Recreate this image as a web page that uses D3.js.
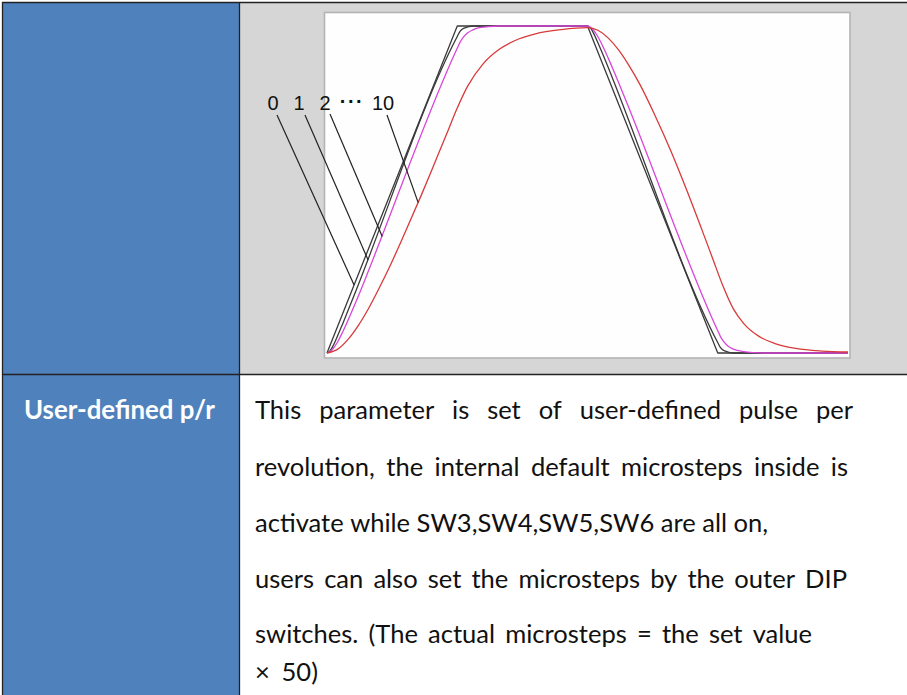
<!DOCTYPE html>
<html><head><meta charset="utf-8">
<script src="https://cdn.jsdelivr.net/npm/d3@7"></script>
<style>html,body{margin:0;padding:0;background:#fff;} svg{display:block}</style>
</head><body>
<svg id="c" width="907" height="695"></svg>
<script>
// ---- data (time 0..100, speed 0..100 % of target) ----
const seriesNames = ["0", "1", "2", "10"];
const seriesColors = ["#3a3a3a", "#3a3a3a", "#d946d9", "#d93a3a"];
const curve0 = [[0,0],[25,100],[50,100],[75,0],[100,0]];
const curve1 = [[0,0],[0.5,0.5],[1,1.7],[1.5,3.3],[2,5.1],[3,8.9],[5,16.8],[25,96.8],[25.5,98.3],[26,99.1],[27,99.7],[28,100],[50,100],[50.5,99.5],[51,98.3],[52,94.9],[53,91.1],[75,3.2],[75.5,1.7],[76,0.9],[77,0.3],[78,0],[100,0]];
const curve2 = [[0,0],[0.5,0.3],[1,1],[2,3.3],[3,6.4],[4,9.9],[5,13.6],[6.5,19.3],[8,25.3],[25,93.2],[25.5,94.9],[26,96.2],[27,97.9],[28,98.8],[29,99.4],[31,99.8],[33,100],[50,100],[50.5,99.7],[51,99],[52,96.7],[53,93.6],[54,90.1],[55,86.4],[57,78.7],[75,6.8],[75.5,5.1],[76,3.8],[77,2.1],[78,1.2],[80,0.4],[82,0.1],[84,0],[100,0]];
const curve10 = [[0,0],[2,1.1],[4,4.1],[6,8.4],[8,13.7],[10,19.8],[12,26.3],[15,36.9],[18,47.9],[21,59.4],[23,67.1],[25,74.9],[27,81.6],[30,88.5],[33,92.8],[36,95.5],[40,97.6],[45,98.9],[50,99.5],[52,98.7],[54,96.3],[56,92.6],[58,87.8],[60,82.3],[63,72.5],[66,61.8],[69,50],[72,37.5],[74,29],[76,20.5],[78,13.5],[80,9],[83,5],[86,2.9],[90,1.4],[95,0.6],[100,0.3]];
const seriesData = [curve0, curve1, curve2, curve10];
// label texts and the point on each curve that its leader line touches
const labelTexts = ["0", "1", "2", "\u00B7\u00B7\u00B7", "10"];
const leaderTargets = [[5.2,20.8],[7.9,28.4],[10.6,35.6],[17.5,46]];
const rowHeader = "User-defined p/r";
const bodyLines = [
  "This parameter is set of user-defined pulse per",
  "revolution, the internal default microsteps inside is",
  "activate while SW3,SW4,SW5,SW6 are all on,",
  "users can also set the microsteps by the outer DIP",
  "switches. (The actual microsteps = the set value",
  "\u00D7 50)"
];

// ---- layout ----
const svg = d3.select("#c");
const BLUE = "#4f81bd", GRAY = "#d6d6d6", LINE = "#222";
const colX = 239.5, rowY = 374.5;

svg.append("rect").attr("x",0).attr("y",0).attr("width",907).attr("height",695).attr("fill","#fff");
svg.append("rect").attr("x",2.5).attr("y",2.5).attr("width",colX-2.5).attr("height",695).attr("fill",BLUE);
svg.append("rect").attr("x",colX).attr("y",2.5).attr("width",907-colX).attr("height",rowY-2.5).attr("fill",GRAY);

// chart box
const box = {x0:324.5, y0:12.5, x1:850, y1:358};
svg.append("rect").attr("x",box.x0).attr("y",box.y0).attr("width",box.x1-box.x0).attr("height",box.y1-box.y0)
  .attr("fill","#fefefe").attr("stroke","#b4b4b4").attr("stroke-width",1.6);

// table borders
const b = svg.append("g").attr("stroke",LINE).attr("stroke-width",1.3);
b.append("line").attr("x1",2).attr("x2",907).attr("y1",2.5).attr("y2",2.5);
b.append("line").attr("x1",2.5).attr("x2",2.5).attr("y1",2).attr("y2",695);
b.append("line").attr("x1",colX).attr("x2",colX).attr("y1",2).attr("y2",695);
b.append("line").attr("x1",2).attr("x2",907).attr("y1",rowY).attr("y2",rowY);

// scales
const x = d3.scaleLinear().domain([0,100]).range([327,848]);
const y = d3.scaleLinear().domain([0,100]).range([353,26]);

const lineGen = d3.line().x(d=>x(d[0])).y(d=>y(d[1])).curve(d3.curveMonotoneX);
const lineLin = d3.line().x(d=>x(d[0])).y(d=>y(d[1]));
seriesData.forEach((s,i)=>{
  svg.append("path").attr("d", i===0 ? lineLin(s) : lineGen(s))
    .attr("fill","none").attr("stroke",seriesColors[i]).attr("stroke-width",1.3)
    .attr("stroke-linejoin","round");
});

// labels
const labelX = [273, 299, 325, 352, 383];
const labelY = 109.5;
labelTexts.forEach((t,i)=>{
  svg.append("text").attr("x",labelX[i]).attr("y", i===3 ? labelY-2 : labelY)
    .attr("text-anchor","middle")
    .attr("font-family","'Liberation Sans', Arial, sans-serif")
    .attr("font-size", 20)
    .attr("font-weight", i===3 ? "bold" : "normal")
    .attr("letter-spacing", i===3 ? 1.5 : 0)
    .attr("fill","#111").text(t);
});
// leader lines
const leaderStart = [[277,115],[305,115],[330,114],[387,115]];
leaderTargets.forEach((p,i)=>{
  svg.append("line").attr("x1",leaderStart[i][0]).attr("y1",leaderStart[i][1])
    .attr("x2",x(p[0])).attr("y2",y(p[1]))
    .attr("stroke","#222").attr("stroke-width",1.2);
});

// header cell text
const FONT = "Lato, 'Open Sans', sans-serif";
const hdr = svg.append("text").attr("x",24).attr("y",418.5)
  .attr("font-family",FONT).attr("font-weight","bold").attr("font-size",24)
  .attr("fill","#fff").text(rowHeader);
const hw = hdr.node().getComputedTextLength();
hdr.attr("font-size", 24*191/hw);

// body text, justified per line
const probe = svg.append("text").attr("font-family",FONT).attr("font-size",24).attr("x",-999).attr("y",-999).text(bodyLines[2]);
const fs = 24*513/probe.node().getComputedTextLength();
probe.attr("font-size",fs);
const lineY = [419, 476, 532, 588, 643, 681];
const lineEnd = [853, 848, 768, 847, 812, 318];
const startX = 255;
bodyLines.forEach((ln,i)=>{
  const words = ln.split(/\s+/);
  const widths = words.map(w=>{ probe.text(w); return probe.node().getComputedTextLength(); });
  const total = d3.sum(widths);
  const gap = words.length>1 ? (lineEnd[i]-startX-total)/(words.length-1) : 0;
  const t = svg.append("text").attr("y",lineY[i]).attr("font-family",FONT).attr("font-size",fs).attr("fill","#111");
  let cx = startX;
  words.forEach((w,j)=>{
    t.append("tspan").attr("x",cx).text(w);
    cx += widths[j] + gap;
  });
});
probe.remove();
</script>
</body></html>
